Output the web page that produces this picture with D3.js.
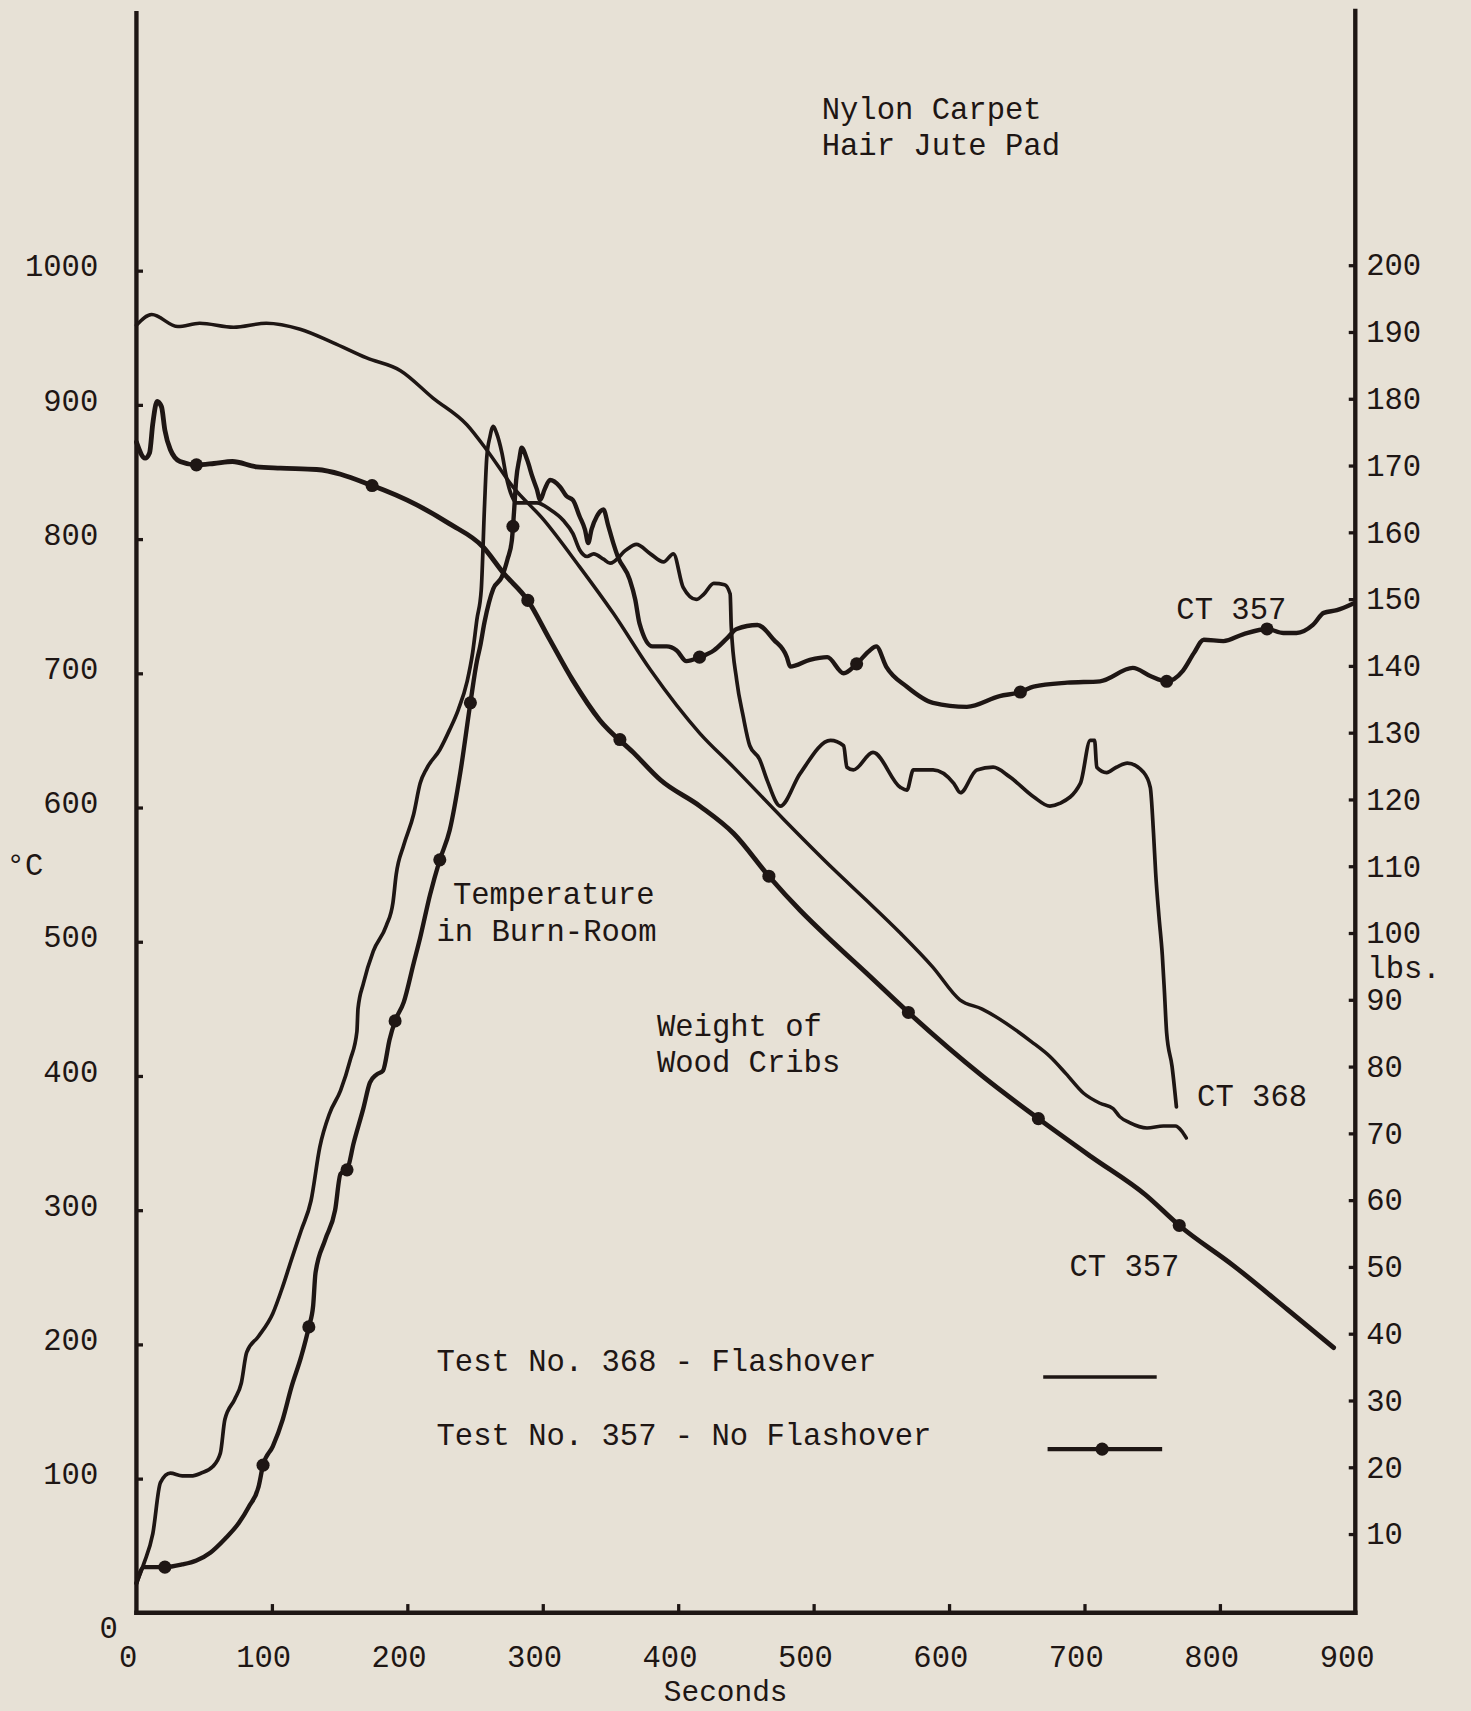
<!DOCTYPE html>
<html><head><meta charset="utf-8">
<script src="https://cdn.jsdelivr.net/npm/d3@7"></script>
<style>
html,body{margin:0;padding:0;background:#e7e1d6;}
svg{display:block;}
</style></head><body>
<svg id="chart" width="1471" height="1711" viewBox="0 0 1348 1568"></svg>
<script>
// ---------- data ----------
const timeTicks = [0,100,200,300,400,500,600,700,800,900];
const tempTicks = [0,100,200,300,400,500,600,700,800,900,1000];
const weightTicks = [10,20,30,40,50,60,70,80,90,100,110,120,130,140,150,160,170,180,190,200];

// Temperature in burn room, test 368 (flashover), seconds / deg C
const t368Time = [0,5.6,12.1,17.7,25,33.8,40.3,47.5,56.4,62,65.3,72.5,77.4,81.4,90.2,100.7,108,114.4,121.7,128.9,135.4,142.6,150.7,157.9,162.8,163.6,167.6,174.9,184.5,189.4,191.8,197.4,204.7,209.5,214.3,224,231.3,237.7,244.2,248.2,251.4,254.6,257,258.7,261,263.5,265.9,269.9,273.2,277.2,280.4,295.7,305.4,315.1,322.3,327.2,332.8,337.6,344.9,349.7,361.8,369.1,379.5,389.2,396.5,403.7,413.4,419,426.3,434.3,438.4,439.2,443.2,448,452.9,460.1,465.8,475.4,489.9,512.5,522.2,524.6,529.4,543.9,564.1,568.9,573.7,588.2,603.5,608.4,620.5,632.6,644.6,662.4,674.5,681.7,697,704.3,707.5,709.1,716.4,723.6,731.7,743.8,748.6,751,752.6,755,757.5,759.1,760.7,764.7,767.9];
const t368Temp = [22,37,59,97,104,102,102,104,109,119,144,159,171,194,206,223,243,263,285,307,347,372,389,412,433,450,469,493,512,529,550,572,595,618,629,643,658,673,694,715,740,762,824,861,876,884,879,864,846,832,827,827,822,814,804,792,787,789,785,782,792,796,789,783,789,764,755,759,767,766,759,735,695,668,646,636,620,601,625,650,646,630,628,641,615,613,628,628,618,611,628,630,623,608,601,603,618,650,650,630,626,630,633,626,615,581,551,519,490,462,432,407,377];

// Temperature in burn room, test 357 (no flashover)
const t357Time = [0,5.6,21,33.8,44.3,54.8,65.3,75.7,83,90.2,93.5,100.7,108,114.4,121.7,127.3,130.5,132.2,139.4,146.7,150.7,155.5,160.4,167.6,172.4,177.3,182.1,186.9,191,197.4,204.7,209.5,216.8,224,231.3,239.3,246.6,251.4,253.8,257,263.5,269.9,274,277.2,278.8,280.4,282.8,284.4,288.5,292.5,295.7,298.1,301.4,305.4,312.7,317.5,322.3,327.2,331.2,333.6,336,340,344.9,348.1,352.1,355.4,364.2,368.3,371.5,381.1,391.6,398.9,406.1,415.8,426.3,436,443.2,458.5,470.6,480.3,482.7,497.2,510.1,522.2,531.8,541.5,546.3,553.6,568.9,588.2,613.2,637.4,652.7,662.4,687.3,711.5,735.7,748.6,760.7,772.8,780.8,788.1,802.6,817.1,834.8,846.9,856.6,868.7,876.7,886.4,898.5];
const t357Temp = [22,34,34,36,39,45,55,67,79,94,110,124,144,168,191,213,229,253,278,300,327,330,350,376,395,401,404,427,441,455,484,503,535,561,583,627,678,709,720,738,763,772,785,799,820,844,860,868,859,846,837,829,837,844,839,832,829,817,807,797,807,817,822,811,797,787,770,755,737,720,720,717,709,712,717,726,733,736,725,712,705,710,712,700,707,717,720,705,690,678,675,683,686,690,693,694,704,698,694,702,715,725,724,729,733,730,730,736,745,747,752];
const t357Markers = [21,93.5,127.3,155.5,191,224,246.6,278,415.8,531.8,652.7,760.7,834.8];

// Weight of wood cribs (lbs)
const w368Time = [0,11.3,30.6,46.7,71.7,95.9,120.9,145,170,195,219,244,259.5,278,300.6,327,352,379.5,416,441,478,515,539,564,588,608,624.5,661,674.5,686.5,699.4,711.5,721.2,726,733.3,746.2,758.3,767.1,772,775.2];
const w368Lbs = [191.0,192.6,190.8,191.3,190.7,191.3,190.4,188.4,186.1,184.2,180.1,176.1,172.1,166.8,161.9,154.9,147.9,139.4,129.9,124.8,117.0,109.5,104.9,100.0,94.9,90.0,88.6,83.7,81.5,78.9,76.0,74.5,73.7,72.5,71.6,70.8,71.1,71.1,70.3,69.3];
const w357Time = [0,6.4,9.7,12.1,15.3,18.5,21,25,32.2,44.3,57.2,70.9,88.6,106.4,133,174,207,231,256,271,289,305,322,342,367,387,416,441,467,490,515,539,570,624.5,666,705,745,770,810,850,884];
const w357Lbs = [173.5,171.1,171.9,176.3,179.6,178.8,175.3,172.4,170.6,170.1,170.3,170.6,169.8,169.6,169.4,167.0,164.1,161.3,157.8,153.9,149.8,144.0,137.9,131.9,127.0,122.9,119.0,114.9,108.5,103.4,98.5,94.0,88.1,78.6,72.2,66.5,60.8,56.2,50.2,43.6,37.9];
const w357Markers = [44.3,174,289,357,467,570,666,770];

const titleLines = ["Nylon Carpet","Hair Jute Pad"];
const tempLabel = ["Temperature","in Burn-Room"];
const weightLabel = ["Weight of","Wood Cribs"];
const legendLabels = ["Test No. 368 - Flashover","Test No. 357 - No Flashover"];

// ---------- drawing ----------
const ink = "#1e1614";
const FONT = "'Liberation Mono','DejaVu Sans Mono',monospace";
const FS = 28;
const svg = d3.select("#chart");
svg.append("rect").attr("width",1348).attr("height",1568).attr("fill","#e7e1d6");

const x = d3.scaleLinear().domain([0,900]).range([125,1242]);
const yT = d3.scaleLinear().domain([0,1000]).range([1478,248]);
const yW = d3.scaleLinear().domain([0,200]).range([1467,243]);

function styleAxis(g){
  g.select(".domain").remove();
  g.attr("font-family",FONT).attr("font-size",FS).style("color",ink);
  g.selectAll(".tick line").attr("stroke-width",3);
}

// left axis (deg C)
const gL = svg.append("g").attr("transform",`translate(${x(0)},0)`)
  .call(d3.axisLeft(yT).tickValues(tempTicks).tickSizeInner(-6).tickSizeOuter(0).tickPadding(35).tickFormat(d3.format("d")));
styleAxis(gL);
gL.selectAll(".tick text").attr("dy","0.17em");
gL.selectAll(".tick").filter(d=>d===0).select("text").attr("x",-17).attr("dy","0.82em");

// bottom axis (seconds)
const gB = svg.append("g").attr("transform",`translate(0,${yT(0)})`)
  .call(d3.axisBottom(x).tickValues(timeTicks).tickSizeInner(-8).tickSizeOuter(0).tickPadding(30).tickFormat(d3.format("d")));
styleAxis(gB);
gB.selectAll(".tick text").attr("dx",-8);
gB.selectAll(".tick").filter(d=>d===0||d===900).select("line").remove();

// right axis (lbs)
const gR = svg.append("g").attr("transform",`translate(${x(900)},0)`)
  .call(d3.axisRight(yW).tickValues(weightTicks).tickSizeInner(-6).tickSizeOuter(0).tickPadding(10).tickFormat(d3.format("d")));
styleAxis(gR);

// axis frame lines
svg.append("line").attr("x1",x(0)).attr("x2",x(0)).attr("y1",10).attr("y2",yT(0)+2)
  .attr("stroke",ink).attr("stroke-width",4);
svg.append("line").attr("x1",x(0)-2).attr("x2",x(900)+2).attr("y1",yT(0)).attr("y2",yT(0))
  .attr("stroke",ink).attr("stroke-width",4);
svg.append("line").attr("x1",x(900)).attr("x2",x(900)).attr("y1",8).attr("y2",yT(0)+2)
  .attr("stroke",ink).attr("stroke-width",4);

// curves
const lineT = d3.line().x(d=>x(d[0])).y(d=>yT(d[1])).curve(d3.curveMonotoneX);
const lineW = d3.line().x(d=>x(d[0])).y(d=>yW(d[1])).curve(d3.curveMonotoneX);

function interp(times, vals, t){
  const i = Math.max(1, Math.min(times.length-1, d3.bisectLeft(times, t)));
  const t0 = times[i-1], t1 = times[i];
  const f = (t - t0) / (t1 - t0);
  return vals[i-1] + f * (vals[i] - vals[i-1]);
}

const curves = g => g.attr("fill","none").attr("stroke",ink)
  .attr("stroke-linejoin","round").attr("stroke-linecap","round");

svg.append("path").datum(d3.zip(w368Time,w368Lbs)).attr("d",lineW).call(curves).attr("stroke-width",3.2);
svg.append("path").datum(d3.zip(w357Time,w357Lbs)).attr("d",lineW).call(curves).attr("stroke-width",4.4);
svg.append("path").datum(d3.zip(t368Time,t368Temp)).attr("d",lineT).call(curves).attr("stroke-width",3.4);
svg.append("path").datum(d3.zip(t357Time,t357Temp)).attr("d",lineT).call(curves).attr("stroke-width",4);

svg.append("g").selectAll("circle").data(t357Markers).join("circle")
  .attr("cx",d=>x(d)).attr("cy",d=>yT(interp(t357Time,t357Temp,d))).attr("r",6).attr("fill",ink);
svg.append("g").selectAll("circle").data(w357Markers).join("circle")
  .attr("cx",d=>x(d)).attr("cy",d=>yW(interp(w357Time,w357Lbs,d))).attr("r",6).attr("fill",ink);

// texts
function txt(s, xx, yy, anchor, size){
  svg.append("text").attr("x",xx).attr("y",yy).attr("font-family",FONT).attr("font-size",size||FS)
    .attr("fill",ink).attr("text-anchor",anchor||"start").attr("xml:space","preserve").text(s);
}
txt(titleLines[0],753,109);
txt(titleLines[1],753,142);
txt(tempLabel[0],415,828);
txt(tempLabel[1],400,862);
txt(weightLabel[0],602,949);
txt(weightLabel[1],602,982);
txt("CT 357",1078,567);
txt("CT 368",1097,1014);
txt("CT 357",980,1169);
txt("°C",6,802);
txt("Seconds",665,1559,"middle",27);
txt("lbs.",1253,896);

// legend
txt(legendLabels[0],400,1256);
txt(legendLabels[1],400,1324);
svg.append("line").attr("x1",956).attr("x2",1060).attr("y1",1262).attr("y2",1262)
  .attr("stroke",ink).attr("stroke-width",3.2);
svg.append("line").attr("x1",960).attr("x2",1065).attr("y1",1328).attr("y2",1328)
  .attr("stroke",ink).attr("stroke-width",4);
svg.append("circle").attr("cx",1010).attr("cy",1328).attr("r",6).attr("fill",ink);
</script>
</body></html>
